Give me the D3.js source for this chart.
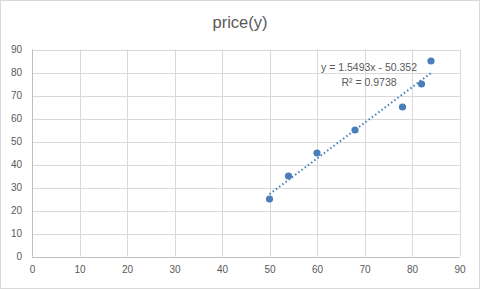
<!DOCTYPE html>
<html>
<head>
<meta charset="utf-8">
<script src="https://cdn.jsdelivr.net/npm/d3@7"></script>
<style>
  body { margin: 0; background: #fff; }
  svg { display: block; font-family: "Liberation Sans", Arial, sans-serif; }
</style>
</head>
<body>
<svg id="chart"></svg>
<script>
// Data
const xValues = [50, 54, 60, 68, 78, 82, 84];
const yValues = [25, 35, 45, 55, 65, 75, 85];
const xTicks = [0, 10, 20, 30, 40, 50, 60, 70, 80, 90];
const yTicks = [0, 10, 20, 30, 40, 50, 60, 70, 80, 90];
const chartTitle = "price(y)";

const width = 480, height = 289;
const margin = { top: 49.5, right: 20.5, bottom: 32.5, left: 32 };

const svg = d3.select("#chart").attr("width", width).attr("height", height);

// outer chart border
svg.append("rect")
  .attr("x", 0.5).attr("y", 0.5)
  .attr("width", width - 1).attr("height", height - 1)
  .attr("fill", "#fff").attr("stroke", "#d9d9d9");

const x = d3.scaleLinear().domain([0, 90]).range([margin.left, width - margin.right]);
const y = d3.scaleLinear().domain([0, 90]).range([height - margin.bottom, margin.top]);

// Title
svg.append("text")
  .attr("x", width / 2).attr("y", 28)
  .attr("text-anchor", "middle")
  .attr("fill", "#595959")
  .style("font-size", "16.5px")
  .text(chartTitle);

// Grid lines
const grid = svg.append("g").attr("stroke", "#d9d9d9").attr("stroke-width", 1);
grid.selectAll("line.v").data(xTicks).join("line")
  .attr("class", "v")
  .attr("x1", d => Math.round(x(d)) + 0.5).attr("x2", d => Math.round(x(d)) + 0.5)
  .attr("y1", y(90)).attr("y2", y(0));
grid.selectAll("line.h").data(yTicks).join("line")
  .attr("class", "h")
  .attr("x1", x(0)).attr("x2", x(90))
  .attr("y1", d => Math.round(y(d)) + 0.5).attr("y2", d => Math.round(y(d)) + 0.5);

// Axis lines (slightly darker)
svg.append("line")
  .attr("x1", x(0)).attr("x2", x(90))
  .attr("y1", Math.round(y(0)) + 0.5).attr("y2", Math.round(y(0)) + 0.5)
  .attr("stroke", "#bfbfbf");
svg.append("line")
  .attr("x1", Math.round(x(0)) + 0.5).attr("x2", Math.round(x(0)) + 0.5)
  .attr("y1", y(90)).attr("y2", y(0))
  .attr("stroke", "#bfbfbf");

// Axes tick labels
const xAxis = svg.append("g")
  .attr("transform", `translate(0,${y(0)})`)
  .call(d3.axisBottom(x).tickValues(xTicks).tickSize(0).tickPadding(9));
const yAxis = svg.append("g")
  .attr("transform", `translate(${x(0)},0)`)
  .call(d3.axisLeft(y).tickValues(yTicks).tickSize(0).tickPadding(10));
[xAxis, yAxis].forEach(a => {
  a.select(".domain").remove();
  a.selectAll("text").attr("fill", "#595959").style("font-size", "10px")
    .style("font-family", "\"Liberation Sans\", Arial, sans-serif");
});

// Linear trendline (least squares)
const n = xValues.length;
const mx = d3.mean(xValues), my = d3.mean(yValues);
const sxy = d3.sum(xValues, (v, i) => (v - mx) * (yValues[i] - my));
const sxx = d3.sum(xValues, v => (v - mx) ** 2);
const syy = d3.sum(yValues, v => (v - my) ** 2);
const slope = sxy / sxx;
const intercept = my - slope * mx;
const r2 = (sxy * sxy) / (sxx * syy);
const x0 = d3.min(xValues), x1 = d3.max(xValues);

svg.append("line")
  .attr("x1", x(x0)).attr("y1", y(slope * x0 + intercept))
  .attr("x2", x(x1)).attr("y2", y(slope * x1 + intercept))
  .attr("stroke", "#4a7ebb")
  .attr("stroke-width", 2)
  .attr("stroke-dasharray", "1.5,2.5");

// Points
svg.selectAll("circle.pt").data(xValues).join("circle")
  .attr("class", "pt")
  .attr("cx", d => x(d))
  .attr("cy", (d, i) => y(yValues[i]))
  .attr("r", 3.6)
  .attr("fill", "#4a7ebb");

// Trendline label
const label = svg.append("g").attr("fill", "#595959").style("font-size", "10.5px");
label.append("text")
  .attr("x", 369).attr("y", 70.5)
  .attr("text-anchor", "middle")
  .text(`y = ${slope.toFixed(4)}x - ${Math.abs(intercept).toFixed(3)}`);
label.append("text")
  .attr("x", 369).attr("y", 86)
  .attr("text-anchor", "middle")
  .text(`R² = ${r2.toFixed(4)}`);
</script>
</body>
</html>
